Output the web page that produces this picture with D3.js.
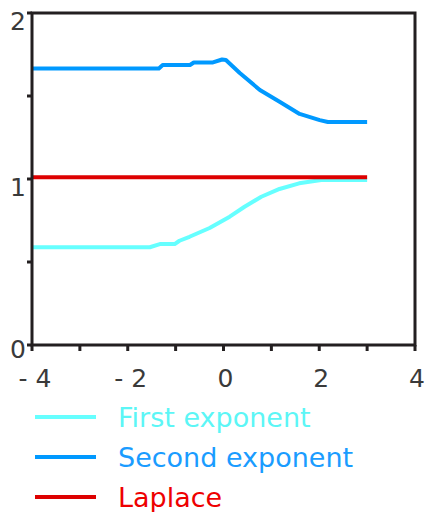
<!DOCTYPE html>
<html><head><meta charset="utf-8">
<script src="https://cdn.jsdelivr.net/npm/d3@7"></script>
<style>html,body{margin:0;padding:0;background:#fff;}</style>
</head><body>
<script>
const firstX = [-4, -1.54, -1.33, -1.02, -0.92, -0.71, -0.29, 0.13, 0.44, 0.79, 1.17, 1.58, 2.04, 3];
const firstY = [0.589, 0.589, 0.608, 0.608, 0.628, 0.652, 0.705, 0.773, 0.833, 0.893, 0.940, 0.974, 0.994, 0.994];
const secondX = [-4, -1.35, -1.27, -0.70, -0.62, -0.22, -0.03, 0.05, 0.34, 0.76, 1.18, 1.59, 2.01, 2.18, 3];
const secondY = [1.666, 1.666, 1.687, 1.687, 1.702, 1.702, 1.720, 1.717, 1.639, 1.536, 1.464, 1.392, 1.355, 1.343, 1.343];
const laplaceX = [-4, 3];
const laplaceY = [1.01, 1.01];
const xTicks = [-4, -3, -2, -1, 0, 1, 2, 3, 4];
const xLabels = [-4, -2, 0, 2, 4];
const yTicks = [0, 0.5, 1, 1.5, 2];
const yLabels = [0, 1, 2];
const seriesNames = ["First exponent", "Second exponent", "Laplace"];
const seriesColors = ["#66ffff", "#0099ff", "#dd0000"];
const textColors = ["#5cf6f6", "#1a9cff", "#ee0000"];

const W = 430, H = 512;
const svg = d3.select("body").append("svg").attr("width", W).attr("height", H);
const x = d3.scaleLinear().domain([-4, 4]).range([32, 415]);
const y = d3.scaleLinear().domain([0, 2]).range([345, 13]);
const font = "DejaVu Sans";
const axisColor = "#231f20";

const series = [
  firstX.map((v, i) => [v, firstY[i]]),
  secondX.map((v, i) => [v, secondY[i]]),
  laplaceX.map((v, i) => [v, laplaceY[i]])
];
const line = d3.line().x(d => x(d[0])).y(d => y(d[1]));

[0, 1, 2].forEach(i => {
  svg.append("path").attr("d", line(series[i])).attr("fill", "none")
    .attr("stroke", seriesColors[i]).attr("stroke-width", 4)
    .attr("stroke-linejoin", "round");
});

// frame
const g = svg.append("g").attr("stroke", axisColor).attr("stroke-width", 3).attr("fill", "none");
g.append("path").attr("d", `M${x(-4)},${y(0)}L${x(4)},${y(0)}L${x(4)},${y(2)}L${x(-4)},${y(2)}Z`)
  .attr("stroke-linecap", "square");
xTicks.forEach(t => {
  g.append("line").attr("x1", x(t)).attr("x2", x(t)).attr("y1", y(0)).attr("y2", y(0) + 6);
});
yTicks.forEach(t => {
  g.append("line").attr("x1", x(-4) - 5).attr("x2", x(-4)).attr("y1", y(t)).attr("y2", y(t));
});

// tick labels
xLabels.forEach(t => {
  svg.append("text").attr("x", x(t) + (t < 0 ? 3 : 2)).attr("y", 387)
    .attr("text-anchor", "middle").attr("font-family", font).attr("font-size", 25)
    .attr("fill", "#3a3a3a").text(t < 0 ? "- " + Math.abs(t) : String(t));
});
yLabels.forEach(t => {
  svg.append("text").attr("x", x(-4) - 6).attr("y", y(t) + (t === 0 ? 13 : 17))
    .attr("text-anchor", "end").attr("font-family", font).attr("font-size", 25)
    .attr("fill", "#3a3a3a").text(String(t));
});

// legend
const legY = [417, 457, 497];
seriesNames.forEach((n, i) => {
  svg.append("line").attr("x1", 35).attr("x2", 96).attr("y1", legY[i]).attr("y2", legY[i])
    .attr("stroke", seriesColors[i]).attr("stroke-width", 4);
  svg.append("text").attr("x", 118).attr("y", legY[i] + 10)
    .attr("font-family", font).attr("font-size", 27).attr("fill", textColors[i]).text(n);
});
</script>
</body></html>
